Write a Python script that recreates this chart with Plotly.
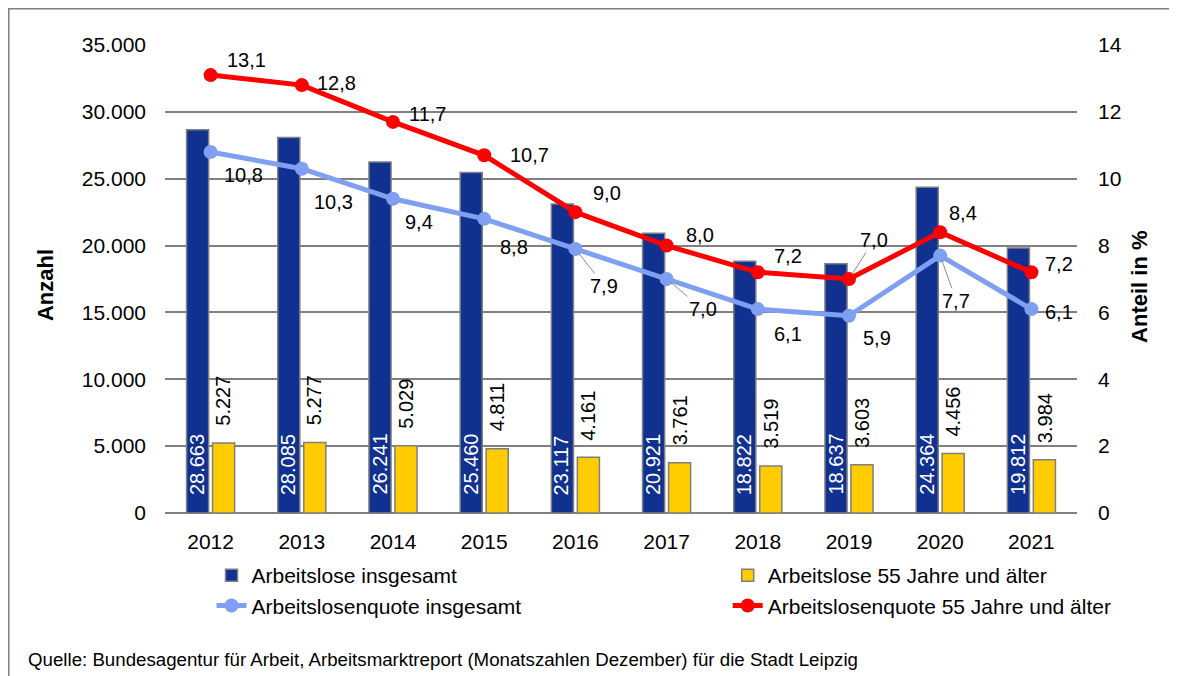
import plotly.graph_objects as go

years = ["2012", "2013", "2014", "2015", "2016", "2017", "2018", "2019", "2020", "2021"]
arbeitslose_gesamt = [28663, 28085, 26241, 25460, 23117, 20921, 18822, 18637, 24364, 19812]
arbeitslose_55 = [5227, 5277, 5029, 4811, 4161, 3761, 3519, 3603, 4456, 3984]
quote_gesamt = [10.8, 10.3, 9.4, 8.8, 7.9, 7.0, 6.1, 5.9, 7.7, 6.1]
quote_55 = [13.1, 12.8, 11.7, 10.7, 9.0, 8.0, 7.2, 7.0, 8.4, 7.2]

# label placement offsets in pixels (dx right, dy down); leader = draw leader line
red_offsets = [(36, -15), (35, -2), (34, -8), (45, 0), (32, -19), (33, -11), (30, -16), (25, -39), (23, -19), (28, -8)]
red_leader = [False, False, False, False, False, False, False, True, False, False]
blue_offsets = [(33, 23), (32, 33), (26, 23), (30, 28), (29, 37), (36, 30), (30, 25), (28, 22), (16, 45), (28, 3)]
blue_leader = [False, False, False, False, True, True, False, False, True, False]

FONT = "Liberation Sans, Arial, sans-serif"
GRID = "#808080"
NAVY = "#10318F"
YELLOW = "#FFCC00"
LBLUE = "#7F9FF2"
RED = "#FF0000"
LBL = 20

fig = go.Figure()
fig.add_trace(go.Bar(x=years, y=arbeitslose_gesamt, name="Arbeitslose insgesamt",
                     marker=dict(color=NAVY, line=dict(color="#7f7f7f", width=1.5)),
                     legend="legend"))
fig.add_trace(go.Bar(x=years, y=arbeitslose_55, name="Arbeitslose 55 Jahre und älter",
                     marker=dict(color=YELLOW, line=dict(color="#7f7f7f", width=1.5)),
                     legend="legend2"))
fig.add_trace(go.Scatter(x=years, y=quote_gesamt, name="Arbeitslosenquote insgesamt",
                         mode="lines+markers", yaxis="y2",
                         line=dict(color=LBLUE, width=5), marker=dict(size=14, color=LBLUE),
                         legend="legend"))
fig.add_trace(go.Scatter(x=years, y=quote_55, name="Arbeitslosenquote 55 Jahre und älter",
                         mode="lines+markers", yaxis="y2",
                         line=dict(color=RED, width=5), marker=dict(size=14, color=RED),
                         legend="legend2"))

def fmt1(v):
    return f"{v:.1f}".replace(".", ",")

def fmt_int(v):
    return f"{v:,}".replace(",", ".")

annotations = []
# line value labels
for series, offs, leaders in ((quote_55, red_offsets, red_leader), (quote_gesamt, blue_offsets, blue_leader)):
    for i, (v, (dx, dy), ld) in enumerate(zip(series, offs, leaders)):
        if ld:
            annotations.append(dict(x=i, y=v, xref="x", yref="y2", text=fmt1(v),
                                    showarrow=True, ax=dx, ay=dy, arrowhead=0, arrowwidth=1,
                                    arrowcolor="#8c8c8c", standoff=5,
                                    font=dict(family=FONT, size=LBL, color="black")))
        else:
            annotations.append(dict(x=i, y=v, xref="x", yref="y2", text=fmt1(v),
                                    showarrow=False, xshift=dx, yshift=-dy,
                                    font=dict(family=FONT, size=LBL, color="black")))

# bar value labels
for i, v in enumerate(arbeitslose_gesamt):
    annotations.append(dict(x=i, y=0, xref="x", yref="y", text=fmt_int(v), textangle=-90,
                            showarrow=False, xshift=-14, yshift=16, yanchor="bottom",
                            font=dict(family=FONT, size=LBL, color="white")))
for i, v in enumerate(arbeitslose_55):
    annotations.append(dict(x=i, y=v, xref="x", yref="y", text=fmt_int(v), textangle=-90,
                            showarrow=False, xshift=13, yshift=15, yanchor="bottom",
                            font=dict(family=FONT, size=LBL, color="black")))

# axis titles and source
annotations.append(dict(x=-0.1316, y=0.487, xref="paper", yref="paper", text="<b>Anzahl</b>",
                        textangle=-90, showarrow=False, xanchor="center", yanchor="middle",
                        font=dict(family=FONT, size=22, color="black")))
annotations.append(dict(x=1.069, y=0.483, xref="paper", yref="paper", text="<b>Anteil in %</b>",
                        textangle=-90, showarrow=False, xanchor="center", yanchor="middle",
                        font=dict(family=FONT, size=22, color="black")))
annotations.append(dict(x=-0.152, y=-0.312, xref="paper", yref="paper", xanchor="left",
                        yanchor="middle",
                        text="Quelle: Bundesagentur für Arbeit, Arbeitsmarktreport (Monatszahlen Dezember) für die Stadt Leipzig",
                        showarrow=False, font=dict(family=FONT, size=18.7, color="black")))

fig.update_layout(
    width=1169, height=668,
    margin=dict(l=157, r=100, t=37, b=163),
    paper_bgcolor="white", plot_bgcolor="white",
    separators=",.",
    barmode="group", bargap=0.43, bargroupgap=0.15,
    font=dict(family=FONT, size=20, color="black"),
    xaxis=dict(type="category", range=[-0.5, 9.5], showgrid=False, showline=False,
               ticks="", ticklabelstandoff=14, tickfont=dict(size=21)),
    yaxis=dict(range=[0, 35000], dtick=5000, tickformat=",d", showgrid=True,
               gridcolor=GRID, gridwidth=1.5, zeroline=True, zerolinecolor=GRID,
               zerolinewidth=1.5, showline=False, ticklabelstandoff=18,
               tickfont=dict(size=21)),
    yaxis2=dict(range=[0, 14], dtick=2, overlaying="y", side="right", showgrid=False,
                zeroline=False, showline=False, ticklabelstandoff=20,
                tickfont=dict(size=21)),
    legend=dict(x=0.051, y=-0.09, xanchor="left", yanchor="top", orientation="v",
                font=dict(family=FONT, size=21), bgcolor="rgba(0,0,0,0)",
                traceorder="normal"),
    legend2=dict(x=0.617, y=-0.09, xanchor="left", yanchor="top", orientation="v",
                 font=dict(family=FONT, size=21), bgcolor="rgba(0,0,0,0)",
                 traceorder="normal"),
    annotations=annotations,
    shapes=[dict(type="rect", xref="paper", yref="paper",
                 x0=-0.1713, y0=1.0774, x1=1.13, y1=-0.38,
                 line=dict(color="#7f7f7f", width=1.5), fillcolor="rgba(0,0,0,0)",
                 layer="below")],
    showlegend=True,
)

fig.write_html("out.html")
